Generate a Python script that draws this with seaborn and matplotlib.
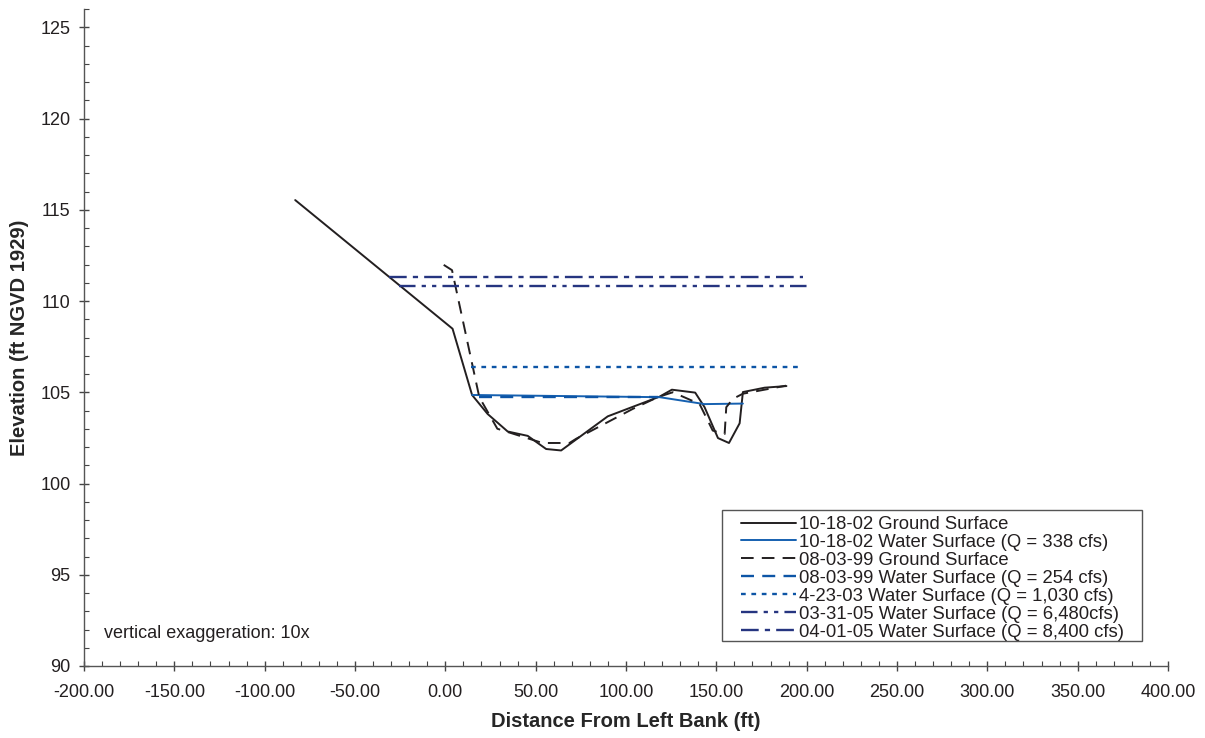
import matplotlib
matplotlib.use("Agg")
import matplotlib.pyplot as plt
import matplotlib.patches as mpatches
import seaborn as sns
import numpy as np
from matplotlib.ticker import MultipleLocator, FormatStrFormatter

sns.set_style("ticks")
plt.rcParams['font.family'] = ['Liberation Sans', 'DejaVu Sans']

# --- data ---
gs_2002_x = [-83.1, 4.0, 14.8, 23.4, 34.5, 45.6, 55.8, 64.1, 89.9, 118.6, 125.4, 138.3, 143.5,
             150.9, 157.0, 162.9, 164.7, 176.7, 188.8]
gs_2002_y = [115.53, 108.48, 104.85, 103.81, 102.85, 102.61, 101.89, 101.81, 103.68, 104.76, 105.14,
             104.98, 104.18, 102.49, 102.22, 103.30, 105.01, 105.25, 105.34]

gs_1999_x = [-0.9, 3.7, 18.8, 28.8, 53.8, 68.7, 72.4, 103.8, 117.6, 125.9, 140.7, 148.0, 154.6,
             155.5, 159.2, 164.7, 188.6]
gs_1999_y = [111.98, 111.69, 104.73, 103.00, 102.22, 102.22, 102.45, 104.09, 104.73, 105.00, 104.36,
             102.90, 102.71, 104.18, 104.64, 104.92, 105.36]

ws_2002_x = [14.8, 118.6, 143.5, 164.7]
ws_2002_y = [104.85, 104.73, 104.35, 104.38]

ws_1999_x = [18.8, 117.6]
ws_1999_y = [104.72, 104.72]

ws_2003_x = [14.2, 197.8]
ws_2003_y = [106.37, 106.37]

ws_0331_x = [-25.8, 200.8]
ws_0331_y = [110.80, 110.80]

ws_0401_x = [-31.0, 197.8]
ws_0401_y = [111.29, 111.29]

labels = ["10-18-02 Ground Surface",
          "10-18-02 Water Surface (Q = 338 cfs)",
          "08-03-99 Ground Surface",
          "08-03-99 Water Surface (Q = 254 cfs)",
          "4-23-03 Water Surface (Q = 1,030 cfs)",
          "03-31-05 Water Surface (Q = 6,480cfs)",
          "04-01-05 Water Surface (Q = 8,400 cfs)"]

x_ticks = [-200, -150, -100, -50, 0, 50, 100, 150, 200, 250, 300, 350, 400]
y_ticks = [90, 95, 100, 105, 110, 115, 120, 125]

# --- figure ---
fig = plt.figure(figsize=(12.05, 7.38), dpi=100)
ax = fig.add_axes([84/1205, 1-666/738, (1168-84)/1205, (666-9)/738])

black = "#231f20"
blue = "#1560b0"
blue2 = "#0d55a6"
navy = "#263580"

series = [
    (gs_2002_x, gs_2002_y, black, "-", 1.4, labels[0]),
    (ws_2002_x, ws_2002_y, blue, "-", 1.4, labels[1]),
    (gs_1999_x, gs_1999_y, black, (0, (6.5, 4.2)), 1.4, labels[2]),
    (ws_1999_x, ws_1999_y, blue2, (0, (5.5, 3.5)), 1.7, labels[3]),
    (ws_2003_x, ws_2003_y, blue2, (0, (2.0, 2.4)), 1.7, labels[4]),
    (ws_0331_x, ws_0331_y, navy, (0, (7, 2.6, 1.8, 2.6, 1.8, 2.6)), 1.7, labels[5]),
    (ws_0401_x, ws_0401_y, navy, (0, (7.5, 2.6, 2.2, 2.6)), 1.7, labels[6]),
]
for xs, ys, c, ls, w, lab in series:
    sns.lineplot(x=xs, y=ys, sort=False, estimator=None, ax=ax, color=c,
                 linewidth=w, linestyle=ls, label=lab)

ax.set_xlim(-200, 400)
ax.set_ylim(90, 126)
ax.set_xticks(x_ticks)
ax.set_yticks(y_ticks)
ax.xaxis.set_major_formatter(FormatStrFormatter('%.2f'))
ax.xaxis.set_minor_locator(MultipleLocator(10))
ax.yaxis.set_minor_locator(MultipleLocator(1))

for s in ["top", "right"]:
    ax.spines[s].set_visible(False)
for s in ["left", "bottom"]:
    ax.spines[s].set_color("#555555")
    ax.spines[s].set_linewidth(1.0)

ax.tick_params(which="major", direction="inout", length=7.5, width=1.0, color="#444444",
               labelsize=13, labelcolor="#231f20")
ax.tick_params(axis="x", which="major", pad=9)
ax.tick_params(axis="y", which="major", pad=6)
ax.tick_params(which="minor", direction="in", length=3.5, width=0.8, color="#444444")

ax.set_xlabel("Distance From Left Bank (ft)", fontsize=14.5, fontweight="bold", labelpad=8)
ax.set_ylabel("Elevation (ft NGVD 1929)", fontsize=14.5, fontweight="bold", labelpad=8)

ax.text(-189, 91.8, "vertical exaggeration: 10x", fontsize=13, color="#231f20", va="center")

# legend box (frame drawn separately to match the wide side padding)
box = mpatches.Rectangle((0.5886, 0.038), 0.976 - 0.5886, 0.2374 - 0.038,
                         transform=ax.transAxes, facecolor="white", edgecolor="#555555",
                         linewidth=1.0, zorder=4)
ax.add_patch(box)
leg = ax.legend(loc="upper left", bbox_to_anchor=(0.606, 0.2283), fontsize=13.3,
                handlelength=3.0, handletextpad=0.15, labelspacing=0.05,
                borderpad=0, borderaxespad=0, frameon=False)
leg.set_zorder(5)
for t in leg.get_texts():
    t.set_color("#231f20")

fig.savefig("out.png", dpi=100)
